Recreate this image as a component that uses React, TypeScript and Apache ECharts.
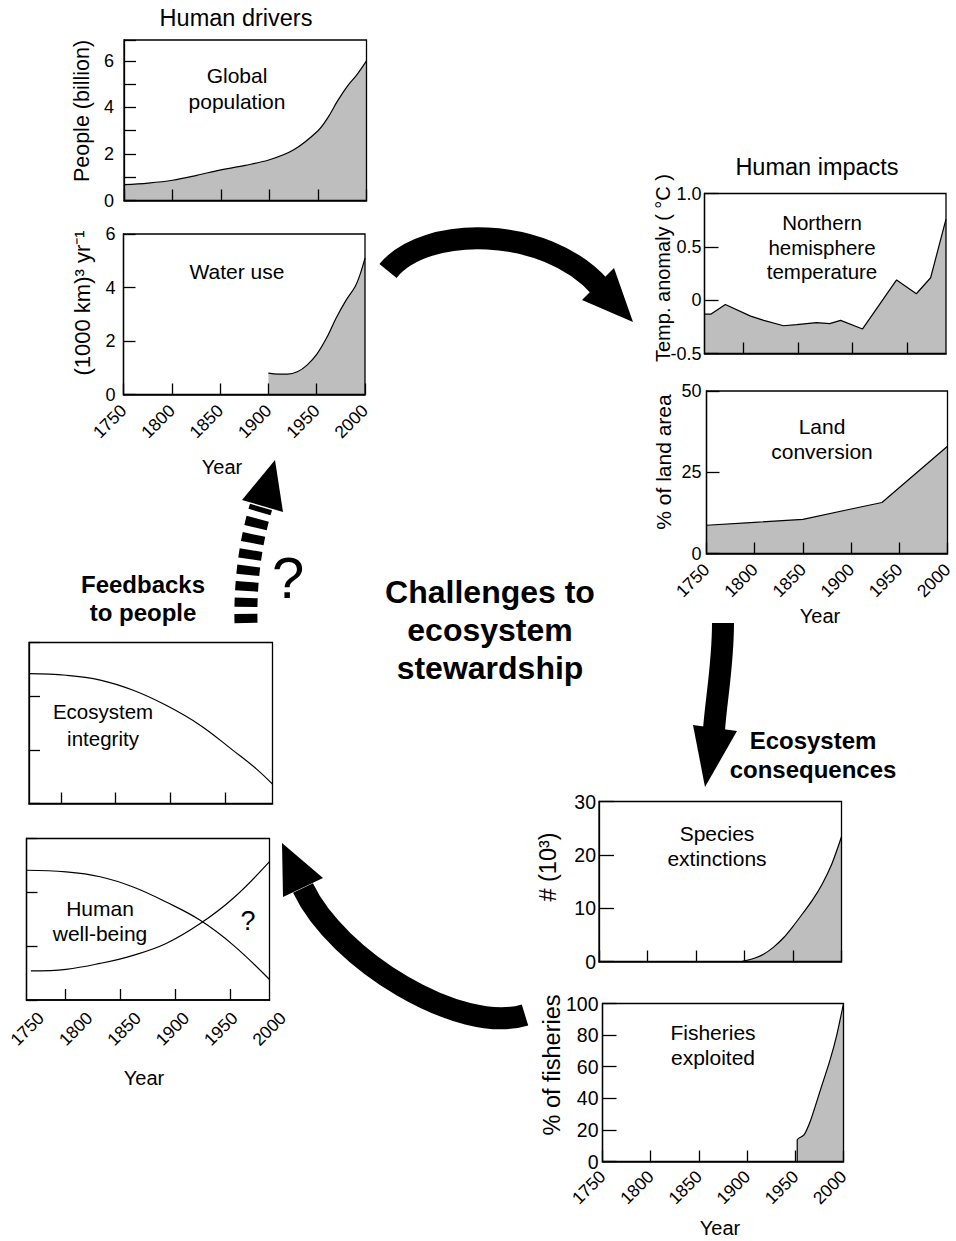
import React, { useEffect, useRef } from "react";
import * as echarts from "echarts";

const FONT = "'Liberation Sans', Arial, Helvetica, sans-serif";
const FILL = "#bebebe";
const BLACK = "#000";

// ---------- data ----------
const popYears = [1750, 1775, 1800, 1825, 1850, 1875, 1900, 1925, 1950, 1960, 1970, 1980, 1990, 2000];
const popValues = [0.68, 0.75, 0.87, 1.08, 1.32, 1.51, 1.75, 2.18, 3.0, 3.55, 4.27, 4.9, 5.4, 6.0];

const waterYears = [1900, 1910, 1920, 1930, 1940, 1950, 1960, 1970, 1980, 1990, 1995, 2000];
const waterValues = [0.8, 0.76, 0.76, 0.85, 1.1, 1.5, 2.1, 2.85, 3.5, 4.05, 4.5, 5.1];

const tempYears = [1765, 1771, 1784, 1807, 1819, 1837, 1849, 1867, 1879, 1889, 1909, 1940, 1958, 1971, 1985];
const tempValues = [-0.13, -0.13, -0.04, -0.15, -0.19, -0.24, -0.23, -0.21, -0.22, -0.19, -0.27, 0.19, 0.06, 0.21, 0.76];

const landYears = [1750, 1800, 1850, 1900, 1932, 2000];
const landValues = [8.7, 9.6, 10.5, 13.7, 15.7, 33];

const speciesYears = [1897, 1910, 1920, 1930, 1940, 1950, 1960, 1970, 1980, 1990, 2000];
const speciesValues = [0, 0.6, 1.4, 2.7, 4.4, 6.6, 9.0, 11.5, 14.5, 18.3, 23.4];

const fishYears = [1952, 1952, 1959, 1966, 1976, 1986, 1993, 2000];
const fishValues = [0, 13.7, 16.8, 26.3, 45.2, 64.2, 80, 100];

const ecoYears = [1771, 1805, 1836, 1866, 1896, 1927, 1957, 1978, 1993];
const ecoValues = [2.42, 2.39, 2.3, 2.11, 1.83, 1.46, 0.99, 0.65, 0.36];

const wellAYears = [1765, 1801, 1832, 1862, 1892, 1923, 1953, 1986];
const wellAValues = [2.41, 2.38, 2.29, 2.1, 1.82, 1.48, 1.02, 0.38];
const wellBYears = [1769, 1801, 1832, 1862, 1892, 1923, 1953, 1986];
const wellBValues = [0.54, 0.57, 0.68, 0.83, 1.05, 1.42, 1.89, 2.57];

const yearTicks = [1800, 1850, 1900, 1950];

const zip = (xs: number[], ys: number[]) => xs.map((x, i) => [x, ys[i]]);

// ---------- layout helpers ----------
const grid = (left: number, top: number, width: number, height: number, show = true) => ({
  left, top, width, height, show, z: 5,
  borderColor: BLACK, borderWidth: 1.3, backgroundColor: "transparent",
  containLabel: false, outerBoundsMode: "none",
});

const tickStyle = { color: BLACK, width: 1.3 };
const labelStyle = { color: BLACK, fontFamily: FONT };

const xAxis = (gridIndex: number, min: number, max: number, opts: any = {}) => ({
  type: "value", gridIndex, min, max, z: 6,
  interval: opts.custom ? undefined : 50,
  axisLine: { show: opts.noLine ? false : true, onZero: false, lineStyle: { color: BLACK, width: 1.6 } },
  axisTick: opts.noTick
    ? { show: false }
    : { show: true, inside: true, length: 11, lineStyle: tickStyle, ...(opts.custom ? { customValues: opts.custom } : {}) },
  axisLabel: opts.labels
    ? { show: true, rotate: 45, margin: opts.margin ?? 12, fontSize: 17.5, ...labelStyle, formatter: (v: number) => String(v) }
    : { show: false },
  splitLine: { show: false },
});

const yAxis = (gridIndex: number, min: number, max: number, interval: number, opts: any = {}) => ({
  type: "value", gridIndex, min, max, interval, z: 6,
  show: opts.hidden ? false : true,
  axisLine: { show: true, onZero: false, lineStyle: { color: BLACK, width: 1.3 } },
  axisTick: { show: true, inside: true, length: opts.tick ?? 12, lineStyle: tickStyle },
  axisLabel: opts.noLabels
    ? { show: false }
    : {
        show: true, margin: opts.margin ?? 8, fontSize: opts.size ?? 18, ...labelStyle,
        formatter: opts.formatter ?? ((v: number) => String(v)),
      },
  splitLine: { show: false },
});

const area = (xi: number, data: number[][], smooth: any, origin: any = "auto") => ({
  type: "line", xAxisIndex: xi, yAxisIndex: xi, data, smooth, symbol: "none",
  lineStyle: { color: BLACK, width: 1.2 },
  areaStyle: { color: FILL, opacity: 1, origin },
  z: 2,
});

const line = (xi: number, data: number[][]) => ({
  type: "line", xAxisIndex: xi, yAxisIndex: xi, data, smooth: 0.4, symbol: "none",
  lineStyle: { color: BLACK, width: 1.2 },
  z: 2,
});

const txt = (x: number, y: number, text: string, size: number, extra: any = {}) => ({
  type: "text", x, y, z: 10, rotation: extra.rotation ?? 0,
  style: {
    text, fill: BLACK, fontFamily: FONT, fontSize: size,
    fontWeight: extra.bold ? "bold" : "normal",
    align: "center", verticalAlign: "middle",
    lineHeight: extra.lineHeight ?? Math.round(size * 1.2),
  },
});

const ROT = Math.PI / 2;

const bez = (p0: number[], p1: number[], p2: number[], p3: number[], w: number, dash?: number[]) => ({
  type: "bezierCurve", z: 10,
  shape: { x1: p0[0], y1: p0[1], cpx1: p1[0], cpy1: p1[1], cpx2: p2[0], cpy2: p2[1], x2: p3[0], y2: p3[1] },
  style: { stroke: BLACK, lineWidth: w, fill: null, lineCap: "butt", ...(dash ? { lineDash: dash } : {}) },
});

const head = (pts: number[][]) => ({
  type: "polygon", z: 10, shape: { points: pts }, style: { fill: BLACK, stroke: null },
});

const option: any = {
  animation: false,
  backgroundColor: "#fff",
  grid: [
    grid(124, 40, 242.5, 160.5),
    grid(123.5, 234, 241.5, 160.5),
    grid(704.5, 193.5, 241.5, 160),
    grid(706.5, 391, 241, 162.5),
    grid(599, 801.5, 242.5, 160),
    grid(602.5, 1003.5, 241, 158),
    grid(29, 642.5, 243.5, 161),
    grid(26.5, 838.5, 243, 161.5),
    grid(41, 838.5, 242, 161.5, false),
  ],
  xAxis: [
    xAxis(0, 1750, 2000),
    xAxis(1, 1750, 2000, { labels: true, margin: 13 }),
    xAxis(2, 1765, 1985, { custom: yearTicks }),
    xAxis(3, 1750, 2000, { labels: true, margin: 13 }),
    xAxis(4, 1750, 2000),
    xAxis(5, 1750, 2000, { labels: true, margin: 12 }),
    xAxis(6, 1771, 1993, { custom: yearTicks }),
    xAxis(7, 1765, 1986, { custom: yearTicks }),
    xAxis(8, 1750, 2000, { labels: true, noLine: true, noTick: true, margin: 15 }),
  ],
  yAxis: [
    yAxis(0, 0, 6.9, 1, { margin: 10, formatter: (v: number) => (v % 2 === 0 ? String(v) : "") }),
    yAxis(1, 0, 6, 2, { margin: 8 }),
    yAxis(2, -0.5, 1, 0.5, { margin: 3, tick: 14, formatter: (v: number) => (v === 0 ? "0" : v.toFixed(1)) }),
    yAxis(3, 0, 50, 25, { margin: 5, tick: 13 }),
    yAxis(4, 0, 30, 10, { margin: 3, tick: 15, size: 19.5 }),
    yAxis(5, 0, 100, 20, { margin: 4, tick: 14, size: 19.5 }),
    yAxis(6, 0, 3, 1, { noLabels: true, tick: 11 }),
    yAxis(7, 0, 3, 1, { noLabels: true, tick: 11 }),
    yAxis(8, 0, 1, 1, { hidden: true }),
  ],
  series: [
    area(0, zip(popYears, popValues), 0.35),
    area(1, zip(waterYears, waterValues), 0.35),
    area(2, zip(tempYears, tempValues), false, "start"),
    area(3, zip(landYears, landValues), false),
    area(4, zip(speciesYears, speciesValues), 0.3),
    area(5, zip(fishYears, fishValues), 0.2),
    line(6, zip(ecoYears, ecoValues)),
    line(7, zip(wellAYears, wellAValues)),
    line(7, zip(wellBYears, wellBValues)),
  ],
  graphic: [
    // titles
    txt(236, 18, "Human drivers", 23.5),
    txt(817, 167, "Human impacts", 23.5),
    // y-axis names
    txt(82, 111, "People (billion)", 21.5, { rotation: ROT }),
    txt(82, 303, "(1000 km)³ yr⁻¹", 22, { rotation: ROT }),
    txt(663, 268, "Temp. anomaly ( °C )", 20, { rotation: ROT }),
    txt(663, 462, "% of land area", 21, { rotation: ROT }),
    txt(548, 867, "# (10³)", 23.5, { rotation: ROT }),
    txt(552, 1065, "% of fisheries", 23.5, { rotation: ROT }),
    // x-axis names
    txt(222, 467, "Year", 20),
    txt(820, 616, "Year", 20),
    txt(144, 1078, "Year", 20),
    txt(720, 1228, "Year", 20),
    // panel labels
    txt(237, 88, "Global\npopulation", 21, { lineHeight: 26 }),
    txt(237, 271, "Water use", 21),
    txt(822, 247, "Northern\nhemisphere\ntemperature", 20.5, { lineHeight: 24.5 }),
    txt(822, 439, "Land\nconversion", 21, { lineHeight: 25 }),
    txt(717, 846, "Species\nextinctions", 21, { lineHeight: 25 }),
    txt(713, 1045, "Fisheries\nexploited", 21, { lineHeight: 25.5 }),
    txt(103, 725, "Ecosystem\nintegrity", 20.5, { lineHeight: 26.5 }),
    txt(100, 921, "Human\nwell-being", 21, { lineHeight: 25 }),
    txt(248, 921, "?", 27),
    // headings
    txt(490, 630, "Challenges to\necosystem\nstewardship", 32, { bold: true, lineHeight: 38 }),
    txt(143, 598, "Feedbacks\nto people", 24, { bold: true, lineHeight: 28 }),
    txt(813, 755, "Ecosystem\nconsequences", 24, { bold: true, lineHeight: 29 }),
    txt(288, 577, "?", 58),
    // arrows
    bez([388, 271], [425, 225], [545, 225], [600, 287], 22),
    head([[582, 300], [614, 268], [633, 322]]),
    bez([723, 623], [723, 665], [716, 700], [714, 730], 22),
    head([[693, 725], [737, 731], [705, 787]]),
    bez([525, 1015], [460, 1035], [337, 960], [303, 888], 22),
    head([[283, 897], [323, 878], [282, 843]]),
    bez([246, 623], [245, 580], [251, 540], [261, 507], 23, [9, 7]),
    head([[242, 500], [283, 512], [275, 460]]),
  ],
};

export default function App() {
  const ref = useRef<HTMLDivElement>(null);
  useEffect(() => {
    const chart = echarts.init(ref.current!, null, { renderer: "svg" });
    chart.setOption(option);
    return () => chart.dispose();
  }, []);
  return (
    <div
      ref={ref}
      style={{ position: "absolute", left: 0, top: 0, width: 956, height: 1241, background: "#fff" }}
    />
  );
}
